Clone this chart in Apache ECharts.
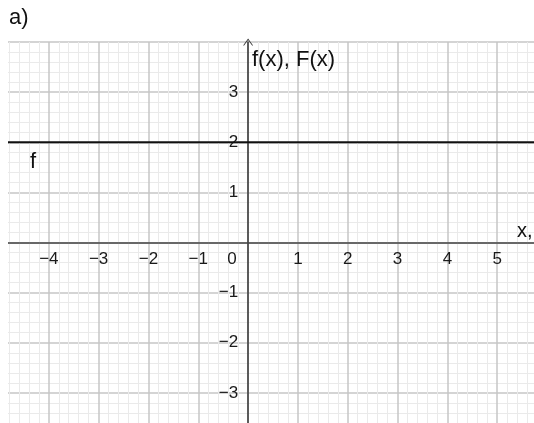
<!DOCTYPE html>
<html>
<head>
<meta charset="utf-8">
<script src="https://cdn.jsdelivr.net/npm/echarts@6/dist/echarts.min.js"></script>
<style>
  html, body { margin: 0; padding: 0; background: #fff; }
  #main { width: 534px; height: 423px; }
</style>
</head>
<body>
<div id="main"></div>
<script>
// axis ranges (whole units so the grid lines fall on integers);
// the grid is wider than the view and the edges are cut off
var xRange = [-5, 6];
var yRange = [-4, 4];

// f(x) = 2, drawn across the view
var fX = [-5, 6];
var fY = [2, 2];

var minus = '\u2212';
var font = '"Liberation Sans", Arial, sans-serif';

// grid box
var gLeft = -1, gWidth = 548, gTop = 42, gHeight = 401;
// move the axes from the grid edges onto the origin
var yAxisShift = gWidth * (0 - xRange[0]) / (xRange[1] - xRange[0]);
var xAxisShift = gHeight * (0 - yRange[0]) / (yRange[1] - yRange[0]);

var chart = echarts.init(document.getElementById('main'));

function isInt(v) {
    return Math.abs(v - Math.round(v)) < 1e-6;
}

function tickText(v) {
    v = Math.round(v);
    return v < 0 ? minus + (-v) : '' + v;
}

var option = {
    backgroundColor: '#fff',
    animation: false,
    grid: {
        left: gLeft,
        width: gWidth,
        top: gTop,
        height: gHeight,
        containLabel: false,
        outerBoundsMode: 'none'
    },
    xAxis: {
        type: 'value',
        position: 'bottom',
        offset: -xAxisShift,
        min: xRange[0],
        max: xRange[1],
        interval: 1,
        axisLine: {
            onZero: false,
            lineStyle: { color: '#444', width: 1.6 }
        },
        axisTick: { show: false },
        axisLabel: {
            margin: 8,
            fontSize: 17,
            fontFamily: font,
            color: '#1a1a1a',
            formatter: function (v) {
                if (!isInt(v)) return '';
                if (Math.round(v) === 0) return '{z|0}';
                if (Math.round(v) === -5 || Math.round(v) === 6) return '';
                return tickText(v);
            },
            rich: {
                z: { fontSize: 17, fontFamily: font, color: '#1a1a1a', padding: [0, 32, 0, 0] }
            }
        },
        splitLine: {
            show: true,
            lineStyle: { color: '#c6c6c6', width: 1.5 }
        },
        minorTick: { show: false, splitNumber: 5 },
        minorSplitLine: {
            show: true,
            lineStyle: { color: '#eaeaea', width: 1 }
        }
    },
    yAxis: {
        type: 'value',
        position: 'left',
        offset: -yAxisShift,
        min: yRange[0],
        max: yRange[1],
        interval: 1,
        axisLine: {
            onZero: false,
            symbol: ['none', 'path://M0,7 L5,0 L10,7 L9,7 L5,1.6 L1,7 Z'],
            symbolSize: [10, 7],
            lineStyle: { color: '#333', width: 1.5 }
        },
        axisTick: { show: false },
        axisLabel: {
            margin: 10,
            fontSize: 17,
            fontFamily: font,
            color: '#1a1a1a',
            padding: [4, 0, 0, 0],
            formatter: function (v) {
                if (!isInt(v)) return '';
                v = Math.round(v);
                if (v === 0 || v === 4 || v === -4) return '';
                return tickText(v);
            }
        },
        splitLine: {
            show: true,
            lineStyle: { color: '#c6c6c6', width: 1.5 }
        },
        minorTick: { show: false, splitNumber: 5 },
        minorSplitLine: {
            show: true,
            lineStyle: { color: '#eaeaea', width: 1 }
        }
    },
    series: [
        {
            name: 'f',
            type: 'line',
            showSymbol: false,
            lineStyle: { color: '#111', width: 1.8 },
            data: fX.map(function (x, i) {
                return [x, fY[i]];
            })
        }
    ],
    graphic: [
        // white margin left of the view
        {
            type: 'rect', left: 0, top: 0, z: 100,
            shape: { width: 8, height: 423 },
            style: { fill: '#fff' }
        },
        {
            type: 'text', left: 9, top: 7, z: 101,
            style: { text: 'a)', font: '22px ' + font, fill: '#111' }
        },
        {
            type: 'text', x: 30, y: 162, z: 101,
            style: { text: 'f', font: '22px ' + font, fill: '#111', verticalAlign: 'middle' }
        },
        {
            type: 'text', x: 252, y: 60, z: 101,
            style: { text: 'f(x), F(x)', font: '22px ' + font, fill: '#111', verticalAlign: 'middle' }
        },
        {
            type: 'text', x: 517, y: 231, z: 101,
            style: { text: 'x,', font: '20px ' + font, fill: '#111', verticalAlign: 'middle' }
        }
    ]
};

chart.setOption(option);
</script>
</body>
</html>
